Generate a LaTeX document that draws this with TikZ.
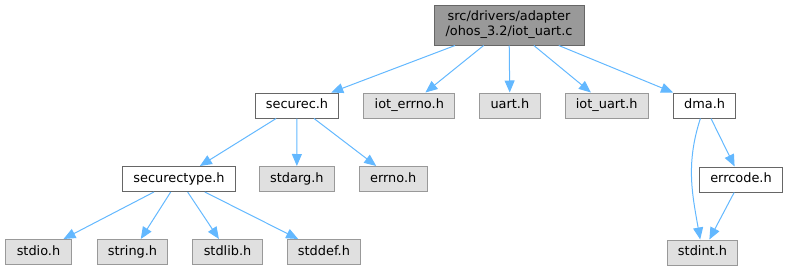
\documentclass[tikz,border=0pt]{standalone}
\usepackage{fontspec}
\setmainfont{DejaVu Sans}
\usepackage{tikz}
\usetikzlibrary{arrows.meta,positioning}
\usepackage{xcolor}
\definecolor{edgeblue}{HTML}{63B8FF}
\definecolor{sysfill}{HTML}{E0E0E0}
\definecolor{sysdraw}{HTML}{999999}
\definecolor{filedraw}{HTML}{666666}

\begin{document}
\begin{tikzpicture}[
      x=1pt, y=-1pt,
      node distance=24pt,
      font=\fontsize{12.9}{15}\selectfont,
      file/.style={draw=filedraw,fill=white,line width=1pt,minimum height=25pt,
                   inner xsep=10.8pt,inner ysep=0pt,text height=9.6pt,text depth=2.9pt},
      sys/.style={file,draw=sysdraw,fill=sysfill},
      root/.style={draw=filedraw,fill=sysdraw,line width=1pt,minimum height=40pt,
                   minimum width=150pt,align=center,inner ysep=0pt},
      arr/.style={-{Triangle[length=12pt,width=10pt]},draw=edgeblue,line width=1pt},
    ]
    \useasboundingbox (0,0) rectangle (788,271);
    % source file
    \node[root] (src) at (509,25) {src/drivers/adapter\\/ohos\_3.2/iot\_uart.c};
    % first level
    \node[file] (securec) at (297,105.5) {securec.h};
    \node[sys,right=of securec] (iotErrno) {iot\_errno.h};
    \node[sys,right=of iotErrno] (uart) {uart.h};
    \node[sys,right=of uart] (iotUart) {iot\_uart.h};
    \node[file,right=of iotUart] (dma) {dma.h};
    % second level
    \node[file] (securectype) at (179,179) {securectype.h};
    \node[sys,right=23pt of securectype] (stdarg) {stdarg.h};
    \node[sys,right=of stdarg] (errno) {errno.h};
    \node[file] (errcode) at (741,179.5) {errcode.h};
    % third level
    \node[sys] (stdio) at (38.5,252) {stdio.h};
    \node[sys,right=25pt of stdio] (string) {string.h};
    \node[sys,right=of string] (stdlib) {stdlib.h};
    \node[sys,right=of stdlib] (stddef) {stddef.h};
    \node[sys] (stdint) at (702.5,252.5) {stdint.h};

    \draw[arr] (src)--(securec);
    \draw[arr] (src)--(iotErrno);
    \draw[arr] (src)--(uart);
    \draw[arr] (src)--(iotUart);
    \draw[arr] (src)--(dma);
    \draw[arr] (securec)--(securectype);
    \draw[arr] (securec)--(stdarg);
    \draw[arr] (securec)--(errno);
    \draw[arr] (securectype)--(stdio);
    \draw[arr] (securectype)--(string);
    \draw[arr] (securectype)--(stdlib);
    \draw[arr] (securectype)--(stddef);
    \draw[arr] (dma)--(errcode);
    \draw[arr] (errcode)--(stdint);
    \draw[arr] (dma) to[out=-108,in=100] (stdint);
  \end{tikzpicture}
\end{document}
